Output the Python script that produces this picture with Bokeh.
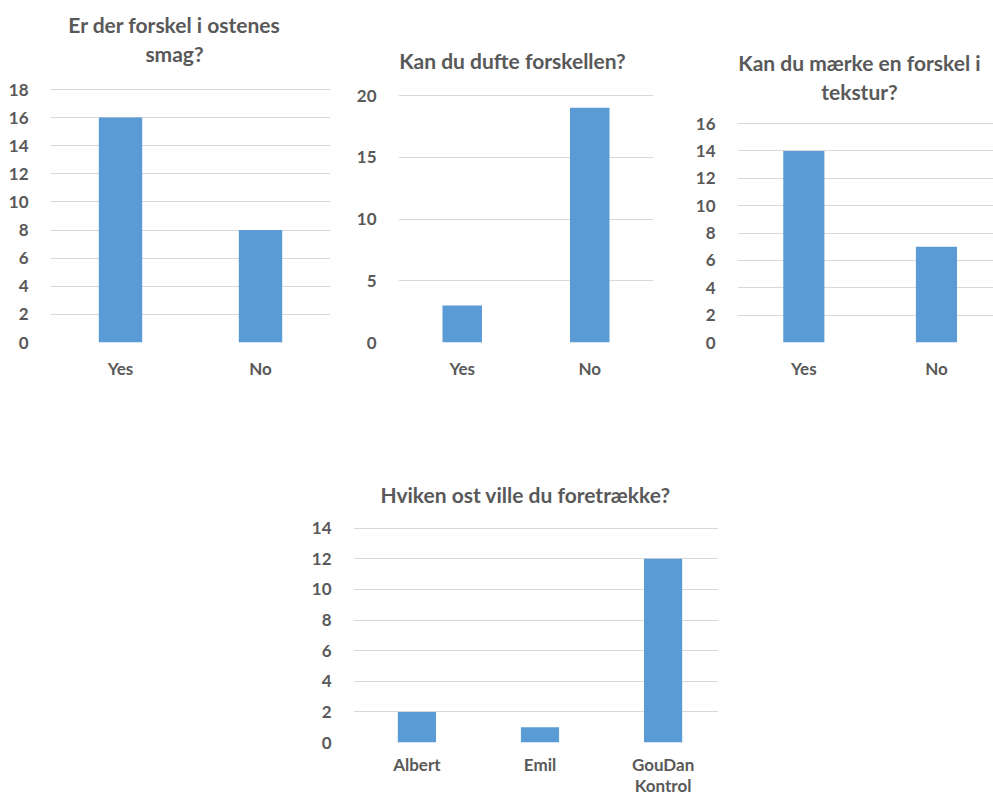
import numpy as np
from bokeh.plotting import figure
from bokeh.models import Range1d, FixedTicker, ColumnDataSource, Spacer, Label
from bokeh.layouts import row, column
from bokeh.embed import file_html
from bokeh.resources import INLINE

# Survey answers (counts of respondents)
taste_title = ["Er der forskel i ostenes", "smag?"]
taste_categories = ["Yes", "No"]
taste_counts = [16, 8]

smell_title = ["Kan du dufte forskellen?"]
smell_categories = ["Yes", "No"]
smell_counts = [3, 19]

texture_title = ["Kan du mærke en forskel i", "tekstur?"]
texture_categories = ["Yes", "No"]
texture_counts = [14, 7]

pref_title = ["Hviken ost ville du foretrække?"]
pref_categories = ["Albert", "Emil", "GouDan\nKontrol"]
pref_counts = [2, 1, 12]

BAR = "#5B9BD5"
GRID = "#D9D9D9"
TEXT = "#595959"
FONT = "Lato"


def bar_chart(title_lines, cats, counts, ymax, ystep, width, height, x_end,
              left, right, bottom, top_tick_px, title_x, title_y,
              x_start=0.0, label_standoff=9, label_line_height=1.2):
    """Bar chart whose plot frame reaches the top of the canvas, so the
    title can be placed inside it; top_tick_px is where ymax sits."""
    frame_h = height - bottom
    y_end = ymax * frame_h / (frame_h - top_tick_px)
    pos = np.arange(len(cats)) + 0.5
    src = ColumnDataSource(dict(x=pos, count=counts))
    p = figure(width=width, height=height,
               x_range=Range1d(x_start, x_end), y_range=Range1d(0, y_end),
               output_backend="svg", toolbar_location=None,
               min_border_left=left, min_border_right=right,
               min_border_top=0, min_border_bottom=bottom)
    p.vbar(x="x", top="count", width=0.31, source=src,
           fill_color=BAR, line_color=None)

    # chart title, one centred label per line; screen units are measured
    # from the bottom-left corner of the plot frame
    for i, line in enumerate(title_lines):
        p.add_layout(Label(x=title_x - left,
                           y=frame_h - (title_y + 28.5 * i),
                           x_units="screen", y_units="screen", text=line,
                           text_align="center", text_baseline="middle",
                           text_font=FONT, text_font_style="bold",
                           text_font_size="21px", text_color=TEXT))

    p.xaxis.ticker = FixedTicker(ticks=list(pos))
    p.xaxis.major_label_overrides = {float(v): c for v, c in zip(pos, cats)}
    p.yaxis.ticker = FixedTicker(ticks=list(range(0, ymax + 1, ystep)))
    for ax in (p.xaxis, p.yaxis):
        ax.axis_line_color = None
        ax.major_tick_line_color = None
        ax.minor_tick_line_color = None
        ax.major_label_text_font = FONT
        ax.major_label_text_font_style = "bold"
        ax.major_label_text_font_size = "17px"
        ax.major_label_text_color = TEXT
    p.yaxis.major_label_standoff = 16
    p.xaxis.major_label_standoff = label_standoff
    p.xaxis.major_label_text_line_height = label_line_height

    p.xgrid.grid_line_color = None
    p.ygrid.grid_line_color = GRID
    p.ygrid.ticker = p.yaxis.ticker
    p.outline_line_color = None
    p.background_fill_color = "white"
    p.border_fill_color = "white"
    return p


p1 = bar_chart(taste_title, taste_categories, taste_counts, 18, 2,
               331, 440, 2.0, 50, 1, 98, 89, 174, 24)
p2 = bar_chart(smell_title, smell_categories, smell_counts, 20, 5,
               331, 440, 2.0, 67, 9, 98, 95, 181, 60)
p3 = bar_chart(texture_title, texture_categories, texture_counts, 16, 2,
               331, 440, 1.93, 75, 0, 98, 123, 197, 62)
p4 = bar_chart(pref_title, pref_categories, pref_counts, 14, 2,
               440, 358, 2.95, 53, 22, 55, 88, 225, 55, x_start=-0.015,
               label_standoff=5, label_line_height=1.0)

top_row = row(column(p1), column(p2), column(p3))
bottom_row = row(Spacer(width=300, height=358), column(p4))
layout = column(top_row, bottom_row)

open("out.html", "w").write(file_html(layout, INLINE))
